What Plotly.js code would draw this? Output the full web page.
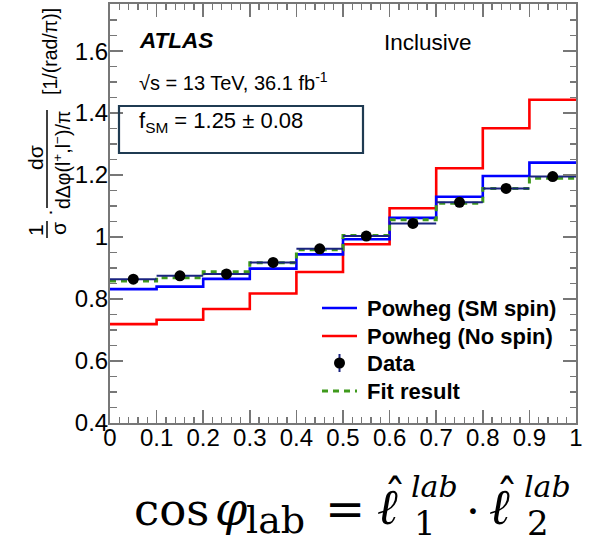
<!DOCTYPE html>
<html>
<head>
<meta charset="utf-8">
<script src="https://cdn.plot.ly/plotly-3.0.1.min.js"></script>
<style>html,body{margin:0;padding:0;background:#fff;}</style>
</head>
<body>
<div id="chart" style="width:590px;height:542px;"></div>
<script>
// ---- data ----
const binEdges = [0, 0.1, 0.2, 0.3, 0.4, 0.5, 0.6, 0.7, 0.8, 0.9, 1.0];
const binCenters = [0.05, 0.15, 0.25, 0.35, 0.45, 0.55, 0.65, 0.75, 0.85, 0.95];
const powhegSM = [0.832, 0.840, 0.865, 0.898, 0.944, 0.993, 1.062, 1.130, 1.197, 1.240];
const powhegNoSpin = [0.719, 0.733, 0.768, 0.818, 0.887, 0.977, 1.093, 1.222, 1.351, 1.443];
const fitResult = [0.858, 0.869, 0.888, 0.917, 0.959, 1.005, 1.056, 1.109, 1.157, 1.190];
const dataValues = [0.864, 0.875, 0.881, 0.918, 0.962, 1.003, 1.044, 1.112, 1.157, 1.195];
const dataErrors = [0.012, 0.012, 0.012, 0.012, 0.014, 0.014, 0.014, 0.014, 0.014, 0.014];
const xTickVals = [0, 0.1, 0.2, 0.3, 0.4, 0.5, 0.6, 0.7, 0.8, 0.9, 1];
const yTickVals = [0.4, 0.6, 0.8, 1.0, 1.2, 1.4, 1.6];
const seriesNames = ['Powheg (SM spin)', 'Powheg (No spin)', 'Data', 'Fit result'];

// ---- colours ----
const cSM = '#0000ff', cNo = '#ff0000', cFit = '#3f9a1c', cErr = '#1a2380';

// ---- geometry helpers (pixel -> paper) ----
const W = 590, H = 542;
const M = {l: 110, r: 14, t: 4, b: 119};
const PW = W - M.l - M.r, PH = H - M.t - M.b;
const px = x => (x - M.l) / PW;
const py = y => (H - M.b - y) / PH;

function stepY(vals) { return vals.concat([vals[vals.length - 1]]); }

const traces = [
  {x: binEdges, y: stepY(powhegNoSpin), mode: 'lines', line: {shape: 'hv', color: cNo, width: 2.6}, name: seriesNames[1]},
  {x: binEdges, y: stepY(powhegSM), mode: 'lines', line: {shape: 'hv', color: cSM, width: 2.6}, name: seriesNames[0]},
  {x: binEdges, y: stepY(fitResult), mode: 'lines', line: {shape: 'hv', color: cFit, width: 3, dash: '6px,5px'}, name: seriesNames[3]},
  {x: binCenters, y: dataValues, mode: 'markers', name: seriesNames[2],
   marker: {color: '#000', size: 11},
   error_y: {type: 'data', array: dataErrors, visible: true, color: cErr, thickness: 2, width: 0},
   error_x: {type: 'constant', value: 0.05, visible: true, color: cErr, thickness: 2, width: 0}}
];

const SANS = 'Liberation Sans, Arial, sans-serif';
const txt = (text, xLeft, baseline, size, extra) => Object.assign({
  text: text, xref: 'paper', yref: 'paper', x: px(xLeft), y: py(baseline - 0.35 * size),
  xanchor: 'left', yanchor: 'middle', showarrow: false, borderpad: 0,
  font: {family: SANS, size: size, color: '#000'}
}, extra || {});

const rot = (text, cx, cy, size) => ({
  text: text, xref: 'paper', yref: 'paper', x: px(cx), y: py(cy), xanchor: 'center', yanchor: 'middle',
  showarrow: false, textangle: -90, borderpad: 0,
  font: {family: SANS, size: size, color: '#000'}
});

const SERIF = 'DejaVu Serif, serif';
const fx = (text, xLeft, baseline, size, italic, anchor) => txt(text, xLeft, baseline, size,
  {xanchor: anchor || 'left', font: {family: SERIF, size: size, color: '#000', style: italic ? 'italic' : 'normal'}});

// legend rows (manual, to match the reference spacing)
const legRows = [308, 336, 363, 391];
const legOrder = [0, 1, 2, 3];

const annotations = [
  txt('ATLAS', 138, 48, 22.5, {font: {family: SANS, size: 22.5, color: '#000', weight: 'bold', style: 'italic'}}),
  txt('Inclusive', 383, 50, 22.5),
  txt('√s = 13 TeV, 36.1 fb<sup>-1</sup>', 138, 88, 20),
  txt('f<sub>SM</sub> = 1.25 ± 0.08', 138, 130, 22),
  // y-axis title pieces
  rot('1', 35, 230, 21),
  rot('σ', 59, 229, 21),
  rot('·', 48, 213, 21),
  rot('dσ', 35, 158, 21),
  rot('dΔφ(l<sup>+</sup>,l<sup>−</sup>)/π', 62, 160, 19.5),
  rot('[1/(rad/π)]', 50, 52, 19.5),
  // formula below the plot
  fx('cos', 133, 525, 45, false),
  fx('φ', 214, 525, 46, true),
  fx('lab', 245, 533, 38, false),
  fx('=', 345, 526, 48, false, 'center'),
  fx('ℓ', 376, 525, 50, true),
  fx('ˆ', 395, 512, 44, false, 'center'),
  fx('lab', 410, 497, 30, true),
  fx('1', 413, 535, 34, false),
  fx('·', 473, 527, 44, false, 'center'),
  fx('ℓ', 488, 525, 50, true),
  fx('ˆ', 507, 512, 44, false, 'center'),
  fx('lab', 523, 497, 30, true),
  fx('2', 526, 535, 34, false)
];

legOrder.forEach((k, i) => {
  annotations.push(txt(seriesNames[k], 366, legRows[i] + 0.35 * 22, 22,
    {font: {family: SANS, size: 22, color: '#000', weight: 'bold'}}));
});

const shapes = [
  {type: 'rect', xref: 'paper', yref: 'paper', x0: px(119), x1: px(363), y0: py(106), y1: py(153),
   line: {color: '#1f3b52', width: 2.2}, fillcolor: 'rgba(0,0,0,0)'},
  {type: 'line', xref: 'paper', yref: 'paper', x0: px(47), x1: px(47), y0: py(221), y1: py(238),
   line: {color: '#000', width: 1.5}},
  {type: 'line', xref: 'paper', yref: 'paper', x0: px(47), x1: px(47), y0: py(110), y1: py(208),
   line: {color: '#000', width: 1.5}},
  // legend symbols
  {type: 'line', xref: 'paper', yref: 'paper', x0: px(322), x1: px(357), y0: py(legRows[0]), y1: py(legRows[0]),
   line: {color: cSM, width: 2.6}},
  {type: 'line', xref: 'paper', yref: 'paper', x0: px(322), x1: px(357), y0: py(legRows[1]), y1: py(legRows[1]),
   line: {color: cNo, width: 2.6}},
  {type: 'line', xref: 'paper', yref: 'paper', x0: px(339.5), x1: px(339.5), y0: py(legRows[2] - 9), y1: py(legRows[2] + 9),
   line: {color: cErr, width: 2}},
  {type: 'circle', xref: 'paper', yref: 'paper', x0: px(334), x1: px(345), y0: py(legRows[2] - 5.5), y1: py(legRows[2] + 5.5),
   line: {color: '#000', width: 0}, fillcolor: '#000'},
  {type: 'line', xref: 'paper', yref: 'paper', x0: px(322), x1: px(357), y0: py(legRows[3]), y1: py(legRows[3]),
   line: {color: cFit, width: 3, dash: '6px,5px'}}
];

const axisCommon = {
  ticks: 'inside', ticklen: 13, tickwidth: 1.5, tickcolor: '#777',
  showline: true, linecolor: '#777', linewidth: 2, mirror: 'ticks',
  showgrid: false, zeroline: false,
  tickfont: {family: SANS, size: 24, color: '#000'}
};

const layout = {
  width: W, height: H, margin: Object.assign({autoexpand: false}, M),
  paper_bgcolor: '#fff', plot_bgcolor: '#fff',
  showlegend: false,
  xaxis: Object.assign({}, axisCommon, {range: [0, 1], tickvals: xTickVals, ticklabelstandoff: -8,
    minor: {ticks: 'inside', dtick: 0.02, ticklen: 6, tickwidth: 1.3, tickcolor: '#777', showgrid: false}}),
  yaxis: Object.assign({}, axisCommon, {range: [0.4, 1.752], tickvals: yTickVals, ticklabelstandoff: -5,
    minor: {ticks: 'inside', dtick: 0.05, ticklen: 6.5, tickwidth: 1.3, tickcolor: '#777', showgrid: false}}),
  annotations: annotations,
  shapes: shapes
};

Plotly.newPlot('chart', traces, layout, {displayModeBar: false, staticPlot: true});
</script>
</body>
</html>
